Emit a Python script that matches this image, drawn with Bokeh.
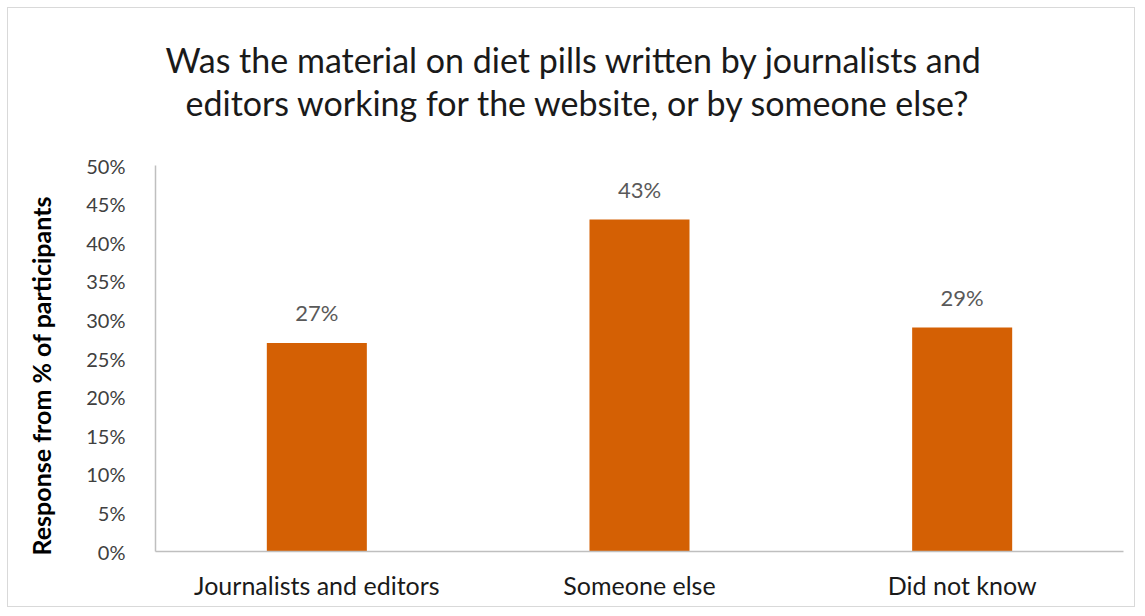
from bokeh.plotting import figure
from bokeh.models import Title, Range1d, FixedTicker, ColumnDataSource
from bokeh.core.properties import value
from bokeh.embed import file_html
from bokeh.resources import INLINE

categories = ["Journalists and editors", "Someone else", "Did not know"]
values = [27, 43, 29]
labels = ["27%", "43%", "29%"]
yticks = [0, 5, 10, 15, 20, 25, 30, 35, 40, 45, 50]
title_lines = ["Was the material on diet pills written by journalists and",
               "editors working for the website, or by someone else?"]
ytitle = "Response from % of participants"

FONT = "Lato"
W, H = 1128, 600

p = figure(x_range=categories, y_range=Range1d(0, 50), width=W, height=H,
           output_backend="svg", toolbar_location=None,
           min_border_left=147, min_border_right=13, min_border_top=157, min_border_bottom=57)
p.styles = {"margin-left": "7px", "margin-top": "7px", "border": "1px solid #d9d9d9"}
p.outline_line_color = None
p.xgrid.grid_line_color = None
p.ygrid.grid_line_color = None
p.x_range.range_padding = 0

src = ColumnDataSource(dict(cat=categories, val=values, lab=labels))
p.vbar(x="cat", top="val", width=0.31, source=src, fill_color="#D46004", line_color=None)
p.text(x="cat", y="val", text="lab", source=src, text_align="center", text_baseline="bottom",
       y_offset=-17, text_font=value(FONT), text_font_size="22px", text_color="#595959")

p.yaxis.ticker = FixedTicker(ticks=yticks)
p.yaxis.major_label_overrides = {t: f"{t}%" for t in yticks}
p.yaxis.major_tick_line_color = None
p.yaxis.minor_tick_line_color = None
p.yaxis.axis_line_color = "#bfbfbf"
p.yaxis.axis_line_width = 1.5
p.yaxis.major_label_text_font = FONT
p.yaxis.major_label_text_font_size = "20px"
p.yaxis.major_label_text_color = "#404040"
p.yaxis.major_label_standoff = 24

p.xaxis.major_tick_line_color = None
p.xaxis.minor_tick_line_color = None
p.xaxis.axis_line_color = "#bfbfbf"
p.xaxis.axis_line_width = 1.5
p.xaxis.major_label_text_font = FONT
p.xaxis.major_label_text_font_size = "25px"
p.xaxis.major_label_text_color = "#1a1a1a"
p.xaxis.major_label_standoff = 12

# spacer between the plot and the two-line title
p.add_layout(Title(text=" ", text_font_size="1px", standoff=40), "above")
# second line first (closest to the plot), then first line above it
offsets = [10, 30]
for i, line in reversed(list(enumerate(title_lines))):
    p.add_layout(Title(text=line, align="left", offset=offsets[i], text_font=FONT,
                       text_font_size="34px", text_font_style="normal", text_line_height=0.8,
                       text_color="#1a1a1a", standoff=0), "above")

# spacer between the y axis and its title
p.add_layout(Title(text=" ", text_font_size="1px", standoff=25), "left")
p.add_layout(Title(text=ytitle, align="left", offset=-4, text_font=FONT,
                   text_font_size="25px", text_font_style="bold", text_color="#000000",
                   standoff=0), "left")

open("out.html", "w").write(file_html(p, INLINE))
